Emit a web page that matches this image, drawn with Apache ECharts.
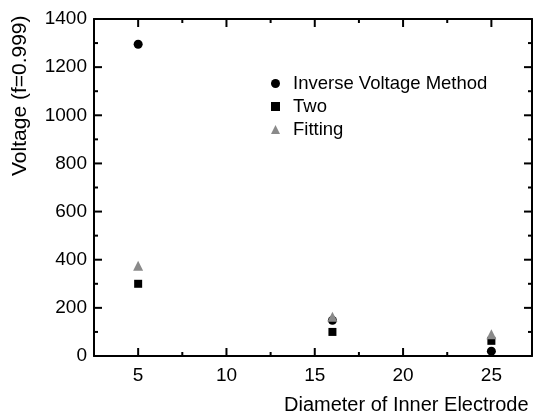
<!DOCTYPE html>
<html>
<head>
<meta charset="utf-8">
<script src="https://cdn.jsdelivr.net/npm/echarts@6/dist/echarts.min.js"></script>
<style>
html,body{margin:0;padding:0;background:#fff;}
#chart{width:536px;height:412px;}
</style>
</head>
<body>
<div id="chart"></div>
<script>
var diameters = [5, 16, 25];
var inverseVoltage = [1295, 148, 20];
var two = [300, 100, 63];
var fitting = [375, 163, 90];
var xLabelValues = [5, 10, 15, 20, 25];
var xMinorValues = [7.5, 12.5, 17.5, 22.5];
var yLabelValues = [0, 200, 400, 600, 800, 1000, 1200, 1400];
var yMajorValues = [200, 400, 600, 800, 1000, 1200];
var yMinorValues = [100, 300, 500, 700, 900, 1100, 1300];
var seriesNames = ['Inverse Voltage Method', 'Two', 'Fitting'];

var FONT = 'Liberation Sans';
var XMIN = 2.5, XMAX = 27.3, YMIN = 0, YMAX = 1400;

function pairs(xs, ys) { return xs.map(function (x, i) { return [x, ys[i]]; }); }
function atY(xs, y) { return xs.map(function (x) { return [x, y]; }); }
function atX(ys, x) { return ys.map(function (y) { return [x, y]; }); }

function mainAxis(pos, labelVals, showLabel, min, max, margin) {
  return {
    type: 'value', position: pos, min: min, max: max,
    axisLine: { show: true, onZero: false, lineStyle: { color: '#000', width: 2 } },
    axisTick: { show: false },
    axisLabel: { show: showLabel, customValues: labelVals, color: '#000', fontFamily: FONT, fontSize: 19, margin: margin,
      formatter: function (v) { return String(v); } },
    splitLine: { show: false }
  };
}

// tick marks drawn as thin rectangles placed through the axes' scales
function tickSeries(data, size, offset) {
  return { type: 'scatter', silent: true, clip: false, z: 1, symbol: 'rect', symbolSize: size, symbolOffset: offset,
    itemStyle: { color: '#000', opacity: 1 }, emphasis: { disabled: true }, data: data };
}

var series = [
  { name: seriesNames[0], type: 'scatter', symbol: 'circle', symbolSize: 9, itemStyle: { color: '#000', opacity: 1 }, data: pairs(diameters, inverseVoltage) },
  { name: seriesNames[1], type: 'scatter', symbol: 'rect', symbolSize: 8, itemStyle: { color: '#000', opacity: 1 }, data: pairs(diameters, two) },
  { name: seriesNames[2], type: 'scatter', symbol: 'triangle', symbolSize: 10, itemStyle: { color: '#8a8a8a', opacity: 1 }, data: pairs(diameters, fitting) },
  tickSeries(atY(xLabelValues, YMIN), [2, 8], [0, -4]),
  tickSeries(atY(xMinorValues, YMIN), [2, 4], [0, -2]),
  tickSeries(atY(xLabelValues, YMAX), [2, 8], [0, 4]),
  tickSeries(atY(xMinorValues, YMAX), [2, 4], [0, 2]),
  tickSeries(atX(yMajorValues, XMIN), [8, 2], [4, 0]),
  tickSeries(atX(yMinorValues, XMIN), [4, 2], [2, 0]),
  tickSeries(atX(yMajorValues, XMAX), [8, 2], [-4, 0]),
  tickSeries(atX(yMinorValues, XMAX), [4, 2], [-2, 0])
];

var chart = echarts.init(document.getElementById('chart'));
chart.setOption({
  animation: false,
  backgroundColor: '#fff',
  grid: { left: 94, top: 19, right: 4, bottom: 56 },
  xAxis: [
    mainAxis('bottom', xLabelValues, true, XMIN, XMAX, 10),
    mainAxis('top', xLabelValues, false, XMIN, XMAX, 10)
  ],
  yAxis: [
    mainAxis('left', yLabelValues, true, YMIN, YMAX, 7),
    mainAxis('right', yLabelValues, false, YMIN, YMAX, 7)
  ],
  legend: {
    orient: 'vertical', left: 266, top: 69, itemGap: 4, itemWidth: 9, itemHeight: 9,
    textStyle: { color: '#000', fontFamily: FONT, fontSize: 18.5, padding: [0, 0, 0, 8] },
    data: seriesNames
  },
  graphic: [
    { type: 'text', left: 284, top: 395, style: { text: 'Diameter of Inner Electrode', fill: '#000', font: '20px "' + FONT + '"' } },
    { type: 'text', x: 10, y: 176, rotation: Math.PI / 2, style: { text: 'Voltage (f=0.999)', fill: '#000', font: '21px "' + FONT + '"', textVerticalAlign: 'top' } }
  ],
  series: series
});
chart.getZr().refreshImmediately();
</script>
</body>
</html>
